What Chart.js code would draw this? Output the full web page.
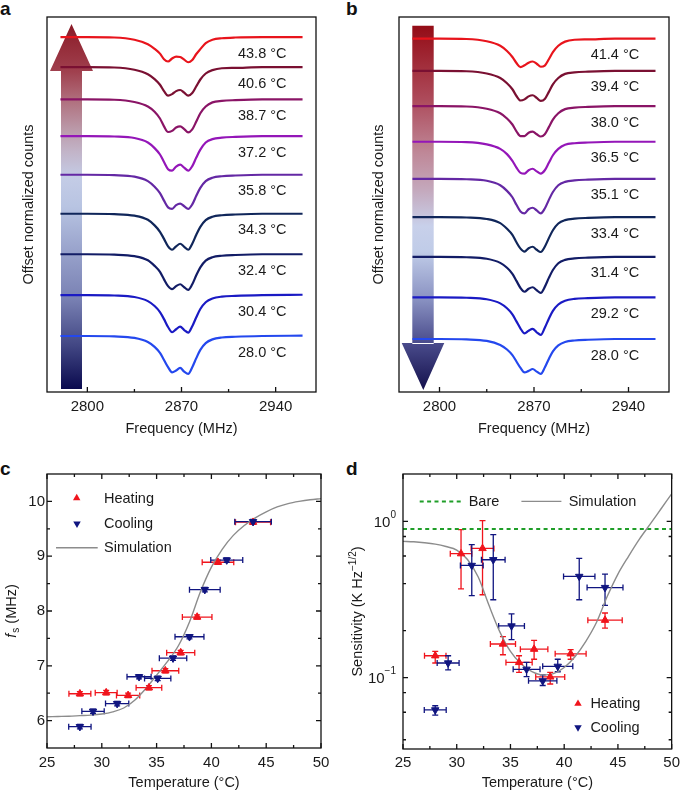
<!DOCTYPE html>
<html><head><meta charset="utf-8">
<script src="https://cdn.jsdelivr.net/npm/chart.js@4.4.1/dist/chart.umd.min.js"></script>
<style>
html,body{margin:0;padding:0;background:#fff;width:685px;height:792px;overflow:hidden;}
canvas{position:absolute;}
.lbl{position:absolute;font:bold 19px 'Liberation Sans',Arial,sans-serif;line-height:19px;color:#111;}
</style></head><body>
<div class="lbl" style="left:0;top:-1px">a</div>
<div class="lbl" style="left:346px;top:-1px">b</div>
<div class="lbl" style="left:0;top:459px">c</div>
<div class="lbl" style="left:346px;top:459px">d</div>
<canvas id="ca" width="340" height="445" style="left:0;top:0"></canvas>
<canvas id="cb" width="333" height="445" style="left:352px;top:0"></canvas>
<canvas id="cc" width="340" height="342" style="left:0;top:450px"></canvas>
<canvas id="cd" width="345" height="342" style="left:340px;top:450px"></canvas>
<script>
// ---------------- DATA ----------------
// Panels a, b: ODMR spectra (normalized counts, %), sampled at these frequencies (MHz)
const freqMHz = [2780, 2800, 2820, 2835, 2845, 2850, 2854, 2857, 2860, 2863, 2866, 2869, 2872, 2875, 2878, 2881, 2884, 2888, 2893, 2900, 2910, 2930, 2960];
const freqTicks = [2800, 2870, 2940];
const freqMinorTicks = [2835, 2905];

// Panel a: heating
const heatTempsA = [28.0, 30.4, 32.4, 34.3, 35.8, 37.2, 38.7, 40.6, 43.8];
const heatOffsetsA = [0, 10.9, 21.8, 32.6, 43.0, 53.3, 63.1, 71.7, 79.7];
const countsA_28_0 = [100,100,99.9,99.5,98.4,97.1,95.5,93.6,91.7,90.3,90.8,91.5,90.5,89.9,91.7,94.1,96.3,98.1,99.1,99.6,99.8,100,100.1];
const countsA_30_4 = [100,100,99.9,99.5,98.4,97.1,95.5,93.6,91.5,90.1,90.9,91.6,90.7,90.0,91.7,94.1,96.3,98.1,99.1,99.6,99.8,100,100.1];
const countsA_32_4 = [100,100,99.9,99.5,98.4,96.9,95.3,93.3,91.5,90.7,91.5,92.0,91.2,90.5,92.0,94.4,96.5,98.3,99.2,99.6,99.8,100,100];
const countsA_34_3 = [100,100,99.9,99.5,98.4,96.9,95.2,93.3,91.3,90.4,91.3,92.0,91.2,90.4,92.0,94.4,96.5,98.3,99.2,99.6,99.8,100,100];
const countsA_35_8 = [100,100,99.9,99.5,98.3,96.8,95.1,93.1,91.3,90.9,91.9,92.3,91.6,90.9,92.1,94.4,96.5,98.3,99.2,99.6,99.8,100,100];
const countsA_37_2 = [100,100,99.9,99.5,98.3,96.8,95.1,93.1,91.2,90.8,91.9,92.4,91.6,90.8,92.0,94.3,96.4,98.3,99.2,99.6,99.8,100,100];
const countsA_38_7 = [100,100,99.9,99.3,98.1,96.7,94.9,92.8,91.3,91.6,92.5,92.8,92.1,91.2,92.0,94.1,96.3,98.1,99.2,99.6,99.8,100,100];
const countsA_40_6 = [100,100,99.9,99.3,98.1,96.8,95.3,93.6,92.4,92.8,93.6,93.9,93.2,92.4,93.1,94.9,96.7,98.3,99.2,99.7,99.8,100,100];
const countsA_43_8 = [100,100,99.9,99.3,98.1,96.9,95.6,94.1,93.5,94.3,94.8,94.7,94.0,93.3,93.9,95.5,96.8,98.4,99.3,99.7,99.9,100,100];
const countsA = [countsA_28_0, countsA_30_4, countsA_32_4, countsA_34_3, countsA_35_8, countsA_37_2, countsA_38_7, countsA_40_6, countsA_43_8];

// Panel b: cooling
const coolTempsB = [28.0, 29.2, 31.4, 33.4, 35.1, 36.5, 38.0, 39.4, 41.4];
const coolOffsetsB = [0, 11.1, 21.9, 32.5, 42.7, 52.6, 62.1, 71.5, 80.1];
const countsB_28_0 = [100,100,99.9,99.5,98.4,97.2,95.7,94.0,92.3,91.1,91.5,92.0,91.3,90.7,92.4,94.7,96.7,98.3,99.2,99.6,99.8,100,100];
const countsB_29_2 = [100,100,99.9,99.5,98.4,97.1,95.5,93.6,91.7,90.4,91.1,91.6,90.7,90.0,91.9,94.3,96.4,98.1,99.1,99.6,99.8,100,100];
const countsB_31_4 = [100,100,99.9,99.5,98.4,97.1,95.5,93.6,91.7,90.7,91.5,91.9,91.1,90.4,92.0,94.4,96.5,98.3,99.2,99.6,99.8,100,100];
const countsB_33_4 = [100,100,99.9,99.5,98.4,96.9,95.3,93.3,91.6,90.8,91.7,92.1,91.3,90.7,92.1,94.4,96.5,98.3,99.2,99.6,99.8,100,100];
const countsB_35_1 = [100,100,99.9,99.5,98.3,96.8,95.1,93.1,91.3,90.8,91.9,92.3,91.6,90.8,92.1,94.4,96.5,98.3,99.2,99.6,99.8,100,100];
const countsB_36_5 = [100,100,99.9,99.3,98.1,96.7,94.9,93.1,91.7,91.5,92.4,92.8,92.1,91.5,92.4,94.4,96.4,98.1,99.2,99.6,99.8,100,100];
const countsB_38_0 = [100,100,99.9,99.3,98.1,96.7,95.1,93.3,92.0,92.0,92.9,93.2,92.5,91.9,92.5,94.4,96.4,98.1,99.2,99.6,99.8,100,100];
const countsB_39_4 = [100,100,99.9,99.3,98.1,96.7,95.1,93.3,92.1,92.4,93.2,93.5,92.8,92.0,92.5,94.4,96.4,98.1,99.2,99.6,99.8,100,100];
const countsB_41_4 = [100,100,99.9,99.3,98.1,96.7,95.1,93.5,92.4,92.9,93.6,93.9,93.3,92.5,92.8,94.5,96.4,98.1,99.2,99.7,99.8,100,100];
const countsB = [countsB_28_0, countsB_29_2, countsB_31_4, countsB_33_4, countsB_35_1, countsB_36_5, countsB_38_0, countsB_39_4, countsB_41_4];

// Panels c, d
const tempTicks = [25, 30, 35, 40, 45, 50];
const tempMinorTicks = [27.5, 32.5, 37.5, 42.5, 47.5];
const fsTicks = [6, 7, 8, 9, 10];
const fsMinorTicks = [6.5, 7.5, 8.5, 9.5];
const sensTicks = [0.1, 1];
const sensTickLabels = [['10', '\u22121'], ['10', '0']];
const sensMinorTicks = [0.04, 0.06, 0.08, 0.2, 0.4, 0.6, 0.8];

const heatTemps   = [28.0, 30.4, 32.4, 34.3, 35.8, 37.2, 38.7, 40.6, 43.8];
const heatTempErr = [1.0, 1.0, 1.06, 1.17, 1.22, 1.28, 1.35, 1.44, 1.6];
const heatFs      = [6.49, 6.51, 6.46, 6.60, 6.91, 7.24, 7.89, 8.89, 9.62];
const heatFsErr   = [0.04, 0.04, 0.04, 0.04, 0.04, 0.04, 0.04, 0.04, 0.04];
const heatSens    = [0.138, 0.621, 0.671, 0.164, 0.125, 0.152, 0.101, 0.142, 0.233];
const heatSensLow = [0.124, 0.37, 0.339, 0.14, 0.108, 0.131, 0.091, 0.131, 0.207];
const heatSensHigh= [0.147, 0.885, 1.01, 0.183, 0.138, 0.173, 0.108, 0.151, 0.259];

const coolTemps   = [43.8, 41.4, 39.4, 38.0, 36.5, 35.1, 33.4, 31.4, 29.2, 28.0];
const coolTempErr = [1.67, 1.46, 1.4, 1.32, 1.25, 1.2, 1.1, 1.06, 1.02, 1.02];
const coolFs      = [9.63, 8.93, 8.39, 7.53, 7.14, 6.77, 6.80, 6.31, 6.17, 5.89];
const coolFsErr   = [0.04, 0.04, 0.04, 0.04, 0.04, 0.04, 0.04, 0.04, 0.04, 0.04];
const coolSens    = [0.377, 0.444, 0.118, 0.0953, 0.113, 0.214, 0.568, 0.522, 0.124, 0.0621];
const coolSensLow = [0.29, 0.315, 0.109, 0.089, 0.1015, 0.175, 0.315, 0.335, 0.112, 0.0575];
const coolSensHigh= [0.46, 0.579, 0.131, 0.104, 0.125, 0.256, 0.822, 0.71, 0.138, 0.066];

const simTemps = [25,26,27,28,29,30,31,32,33,34,35,36,37,38,39,40,41,42,43,44,45,46,47,48,49,50];
const simFs    = [6.07,6.075,6.08,6.09,6.10,6.12,6.16,6.23,6.37,6.58,6.83,7.08,7.37,7.80,8.35,8.80,9.13,9.38,9.56,9.70,9.81,9.90,9.96,10.00,10.03,10.05];
const simSens  = [0.745,0.74,0.73,0.715,0.69,0.655,0.57,0.44,0.29,0.197,0.147,0.122,0.109,0.104,0.106,0.116,0.136,0.17,0.225,0.33,0.46,0.6,0.77,0.96,1.2,1.5];
const bareTemps = [25, 50];
const bareSens  = [0.894, 0.894];

// ---------------- STYLE ----------------
const FONT = "'Liberation Sans', Arial, Helvetica, sans-serif";
const TXT = '#1a1a1a';
const RED = '#f0141c';
const BLUE = '#101580';
const GRAY = '#8c8c8c';
const GREEN = '#1f9e28';
const colorsA = ['#2448ee','#1a1ac4','#121c66','#10265a','#6428a4','#9416b8','#8a1466','#7a1032','#e8141c'];
const colorsB = ['#2448ee','#1a1ac4','#121c66','#10265a','#6428a4','#9416b8','#8a1466','#7a1032','#e8141c'];

Chart.defaults.font.family = FONT;
Chart.defaults.color = TXT;
Chart.defaults.animation = false;

const zip = (xs, ys) => xs.map((v, i) => ({x: v, y: ys[i]}));

// frame + inward ticks
function framePlugin(cfg) {
  return {
    id: 'frame',
    afterDatasetsDraw(chart) {
      const {ctx, chartArea: a, scales: {x, y}} = chart;
      ctx.save();
      ctx.strokeStyle = '#111';
      ctx.lineWidth = 1.3;
      ctx.strokeRect(a.left, a.top, a.right - a.left, a.bottom - a.top);
      ctx.beginPath();
      const xt = (vals, len) => vals.forEach(v => {
        const p = x.getPixelForValue(v);
        ctx.moveTo(p, a.bottom); ctx.lineTo(p, a.bottom - len);
        if (cfg.mirror) { ctx.moveTo(p, a.top); ctx.lineTo(p, a.top + len); }
      });
      const yt = (vals, len) => vals.forEach(v => {
        const p = y.getPixelForValue(v);
        ctx.moveTo(a.left, p); ctx.lineTo(a.left + len, p);
        if (cfg.mirror) { ctx.moveTo(a.right, p); ctx.lineTo(a.right - len, p); }
      });
      xt(cfg.xMajor || [], 5); xt(cfg.xMinor || [], 3);
      yt(cfg.yMajor || [], 5); yt(cfg.yMinor || [], 3);
      ctx.stroke();
      ctx.restore();
    }
  };
}

function arrowPlugin(up, stops) {
  return {
    id: 'arrow',
    beforeDatasetsDraw(chart) {
      const {ctx, chartArea: a} = chart;
      ctx.save();
      let g;
      if (up) {
        g = ctx.createLinearGradient(0, a.top + 7, 0, a.bottom - 3);
      } else {
        g = ctx.createLinearGradient(0, a.top + 8.7, 0, a.bottom - 2);
      }
      stops.forEach(s => g.addColorStop(s[0], s[1]));
      ctx.fillStyle = g;
      ctx.beginPath();
      if (up) {
        ctx.rect(a.left + 14, a.top + 53, 21, a.bottom - 3 - (a.top + 53));
        ctx.moveTo(a.left + 3, a.top + 54);
        ctx.lineTo(a.left + 24.5, a.top + 7);
        ctx.lineTo(a.left + 46, a.top + 54);
        ctx.closePath();
      } else {
        ctx.rect(a.left + 13.3, a.top + 8.7, 21.4, a.bottom - 48 - (a.top + 8.7));
        ctx.moveTo(a.left + 2.7, a.bottom - 49);
        ctx.lineTo(a.left + 24.3, a.bottom - 2);
        ctx.lineTo(a.left + 45.3, a.bottom - 49);
        ctx.closePath();
      }
      ctx.fill();
      ctx.restore();
    }
  };
}

function tempLabelPlugin(temps, offsets, labelFreq) {
  return {
    id: 'templabels',
    afterDatasetsDraw(chart) {
      const {ctx, scales: {x, y}} = chart;
      ctx.save();
      ctx.font = '14.5px ' + FONT;
      ctx.fillStyle = TXT;
      ctx.textAlign = 'left';
      ctx.textBaseline = 'middle';
      temps.forEach((t, i) => {
        ctx.fillText(t.toFixed(1) + ' \u00B0C', x.getPixelForValue(labelFreq), y.getPixelForValue(100 + offsets[i]) + 16.5);
      });
      ctx.restore();
    }
  };
}

function spectraChart(id, temps, offsets, counts, colors, yMin, yMax, titlePad, padRight, arrow) {
  const datasets = temps.map((t, i) => ({
    data: freqMHz.map((f, k) => ({x: f, y: counts[i][k] + offsets[i]})),
    borderColor: colors[i],
    borderWidth: 2.2,
    pointRadius: 0,
    showLine: true,
    cubicInterpolationMode: 'monotone'
  }));
  return new Chart(document.getElementById(id), {
    type: 'scatter',
    data: {datasets},
    options: {
      responsive: false, devicePixelRatio: 1, animation: false,
      layout: {padding: {top: 17, right: padRight, left: 0, bottom: 0}},
      plugins: {legend: {display: false}, tooltip: {enabled: false}},
      scales: {
        x: {
          type: 'linear', min: 2770, max: 2970, position: 'bottom',
          grid: {display: false, drawTicks: false}, border: {display: false},
          afterBuildTicks: s => { s.ticks = freqTicks.map(v => ({value: v})); },
          afterFit: s => { s.height = 53; },
          ticks: {font: {size: 15}, padding: 6, color: TXT, maxRotation: 0, callback: v => String(v)},
          title: {display: true, text: 'Frequency (MHz)', font: {size: 14.5}, color: TXT, padding: {top: 0, bottom: 7}}
        },
        y: {
          min: yMin, max: yMax,
          grid: {display: false, drawTicks: false}, border: {display: false},
          ticks: {display: false},
          afterFit: s => { s.width = 47; },
          title: {display: true, text: 'Offset normalized counts', font: {size: 14.5}, color: TXT, padding: {top: titlePad, bottom: 0}}
        }
      }
    },
    plugins: [arrow, framePlugin({xMajor: freqTicks, xMinor: freqMinorTicks, mirror: false}),
              tempLabelPlugin(temps, offsets, 2912)]
  });
}

spectraChart('ca', heatTempsA, heatOffsetsA, countsA, colorsA, 85.07, 185.07, 20, 24,
  arrowPlugin(true, [[0,'#8a1a26'],[0.13,'#a0404e'],[0.21,'#b0707e'],[0.29,'#bb9aaa'],[0.35,'#c2b4c8'],
    [0.42,'#c4cce6'],[0.5,'#b8c4e2'],[0.62,'#99a3cc'],[0.75,'#7a82b4'],[0.88,'#424784'],[1,'#0a0a4e']]));
spectraChart('cb', coolTempsB, coolOffsetsB, countsB, colorsB, 85.87, 185.87, 18, 16,
  arrowPlugin(false, [[0,'#940c16'],[0.2,'#ad4a5a'],[0.35,'#bf8898'],[0.45,'#c4a8bc'],[0.55,'#c8d0ea'],
    [0.62,'#c0cce8'],[0.75,'#8a92c2'],[0.87,'#4a4c8c'],[1,'#14104c']]));

// error bars
function errPlugin(sets) {
  return {
    id: 'errbars',
    beforeDatasetsDraw(chart) {
      const {ctx, scales: {x, y}} = chart;
      ctx.save();
      ctx.lineWidth = 1.3;
      sets.forEach(s => {
        ctx.strokeStyle = s.color;
        ctx.beginPath();
        s.x.forEach((xv, i) => {
          const px = x.getPixelForValue(xv), py = y.getPixelForValue(s.y[i]);
          const x0 = x.getPixelForValue(xv - s.xerr[i]), x1 = x.getPixelForValue(xv + s.xerr[i]);
          const y0 = y.getPixelForValue(s.lo[i]), y1 = y.getPixelForValue(s.hi[i]);
          ctx.moveTo(x0, py); ctx.lineTo(x1, py);
          ctx.moveTo(x0, py - 3); ctx.lineTo(x0, py + 3);
          ctx.moveTo(x1, py - 3); ctx.lineTo(x1, py + 3);
          ctx.moveTo(px, y0); ctx.lineTo(px, y1);
          ctx.moveTo(px - 3, y0); ctx.lineTo(px + 3, y0);
          ctx.moveTo(px - 3, y1); ctx.lineTo(px + 3, y1);
        });
        ctx.stroke();
      });
      ctx.restore();
    }
  };
}

function tri(ctx, x, y, r, down, color) {
  let rad = down ? Math.PI : 0;
  ctx.beginPath();
  for (let k = 0; k < 3; k++) {
    const px = x + Math.sin(rad) * r, py = y - Math.cos(rad) * r;
    if (k === 0) ctx.moveTo(px, py); else ctx.lineTo(px, py);
    rad += 2 * Math.PI / 3;
  }
  ctx.closePath();
  ctx.fillStyle = color; ctx.fill();
}

const ptHeat = {pointStyle: 'triangle', pointRadius: 4.3, pointRotation: 0, backgroundColor: RED, borderColor: RED, borderWidth: 1};
const ptCool = {pointStyle: 'triangle', pointRadius: 4.3, pointRotation: 180, backgroundColor: BLUE, borderColor: BLUE, borderWidth: 1};

// Panel c
new Chart(document.getElementById('cc'), {
  type: 'scatter',
  data: {datasets: [
    {data: zip(coolTemps, coolFs), ...ptCool, order: 0},
    {data: zip(heatTemps, heatFs), ...ptHeat, order: 1},
    {data: zip(simTemps, simFs), showLine: true, borderColor: GRAY, borderWidth: 1.4, pointRadius: 0, cubicInterpolationMode: 'monotone', order: 2}
  ]},
  options: {
    responsive: false, devicePixelRatio: 1, animation: false,
    layout: {padding: {top: 24, right: 19, left: 0, bottom: 0}},
    plugins: {legend: {display: false}, tooltip: {enabled: false}},
    scales: {
      x: {
        type: 'linear', min: 25, max: 50,
        grid: {display: false, drawTicks: false}, border: {display: false},
        afterBuildTicks: s => { s.ticks = tempTicks.map(v => ({value: v})); },
        afterFit: s => { s.height = 44; },
        ticks: {font: {size: 15}, padding: 6, color: TXT, maxRotation: 0, callback: v => String(v)},
        title: {display: true, text: 'Temperature (\u00B0C)', font: {size: 14.5}, color: TXT, padding: {top: 0, bottom: 0}}
      },
      y: {
        min: 5.5, max: 10.5,
        grid: {display: false, drawTicks: false}, border: {display: false},
        afterBuildTicks: s => { s.ticks = fsTicks.map(v => ({value: v})); },
        afterFit: s => { s.width = 47; },
        ticks: {font: {size: 15}, padding: 2, color: TXT, callback: v => String(v)}
      }
    }
  },
  plugins: [
    errPlugin([
      {x: heatTemps, y: heatFs, xerr: heatTempErr, lo: heatFs.map((v, i) => v - heatFsErr[i]), hi: heatFs.map((v, i) => v + heatFsErr[i]), color: RED},
      {x: coolTemps, y: coolFs, xerr: coolTempErr, lo: coolFs.map((v, i) => v - coolFsErr[i]), hi: coolFs.map((v, i) => v + coolFsErr[i]), color: BLUE}
    ]),
    framePlugin({xMajor: tempTicks, xMinor: tempMinorTicks, yMajor: fsTicks, yMinor: fsMinorTicks, mirror: true}),
    {
      id: 'legendC',
      afterDraw(chart) {
        const {ctx, chartArea: a} = chart;
        ctx.save();
        ctx.font = '14.5px ' + FONT; ctx.fillStyle = TXT; ctx.textBaseline = 'middle'; ctx.textAlign = 'left';
        tri(ctx, a.left + 29.7, a.top + 24, 4.3, false, RED);
        ctx.fillStyle = TXT; ctx.fillText('Heating', a.left + 57, a.top + 25);
        tri(ctx, a.left + 30, a.top + 49.7, 4.3, true, BLUE);
        ctx.fillStyle = TXT; ctx.fillText('Cooling', a.left + 57, a.top + 50);
        ctx.strokeStyle = GRAY; ctx.lineWidth = 1.4;
        ctx.beginPath(); ctx.moveTo(a.left + 9, a.top + 73.7); ctx.lineTo(a.left + 50.7, a.top + 73.7); ctx.stroke();
        ctx.fillText('Simulation', a.left + 57, a.top + 74);
        // y title: f_s (MHz)
        ctx.translate(11, (a.top + a.bottom) / 2);
        ctx.rotate(-Math.PI / 2);
        const f1 = 'italic 14.5px ' + FONT, f2 = '10px ' + FONT, f3 = '14.5px ' + FONT;
        ctx.font = f1; const w1 = ctx.measureText('f').width + 1;
        ctx.font = f2; const w2 = ctx.measureText('s').width;
        ctx.font = f3; const w3 = ctx.measureText(' (MHz)').width;
        let sx = -(w1 + w2 + w3) / 2;
        ctx.textBaseline = 'alphabetic';
        ctx.font = f1; ctx.fillText('f', sx, 5); sx += w1;
        ctx.font = f2; ctx.fillText('s', sx, 8); sx += w2;
        ctx.font = f3; ctx.fillText(' (MHz)', sx, 5);
        ctx.restore();
      }
    }
  ]
});

// Panel d
new Chart(document.getElementById('cd'), {
  type: 'scatter',
  data: {datasets: [
    {data: zip(coolTemps, coolSens), ...ptCool, order: 0},
    {data: zip(heatTemps, heatSens), ...ptHeat, order: 1},
    {data: zip(simTemps, simSens), showLine: true, borderColor: GRAY, borderWidth: 1.4, pointRadius: 0, cubicInterpolationMode: 'monotone', order: 2},
    {data: zip(bareTemps, bareSens), showLine: true, borderColor: GREEN, borderWidth: 2, borderDash: [4, 3.4], pointRadius: 0, order: 3}
  ]},
  options: {
    responsive: false, devicePixelRatio: 1, animation: false,
    layout: {padding: {top: 24, right: 10, left: 0, bottom: 0}},
    plugins: {legend: {display: false}, tooltip: {enabled: false}},
    scales: {
      x: {
        type: 'linear', min: 25, max: 50,
        grid: {display: false, drawTicks: false}, border: {display: false},
        afterBuildTicks: s => { s.ticks = tempTicks.map(v => ({value: v})); },
        afterFit: s => { s.height = 43; },
        ticks: {font: {size: 15}, padding: 5, color: TXT, maxRotation: 0, callback: v => String(v)},
        title: {display: true, text: 'Temperature (\u00B0C)', font: {size: 14.5}, color: TXT, padding: {top: 0, bottom: 0}}
      },
      y: {
        type: 'logarithmic', min: 0.0349, max: 2.01,
        grid: {display: false, drawTicks: false}, border: {display: false},
        ticks: {display: false},
        afterFit: s => { s.width = 63; }
      }
    }
  },
  plugins: [
    errPlugin([
      {x: heatTemps, y: heatSens, xerr: heatTempErr, lo: heatSensLow, hi: heatSensHigh, color: RED},
      {x: coolTemps, y: coolSens, xerr: coolTempErr, lo: coolSensLow, hi: coolSensHigh, color: BLUE}
    ]),
    framePlugin({xMajor: tempTicks, xMinor: tempMinorTicks, yMajor: sensTicks, yMinor: sensMinorTicks, mirror: true}),
    {
      id: 'legendD',
      afterDraw(chart) {
        const {ctx, chartArea: a, scales: {y}} = chart;
        ctx.save();
        // y tick labels 10^n
        sensTicks.forEach((v, i) => {
          const py = y.getPixelForValue(v);
          const [base, exp] = sensTickLabels[i];
          ctx.textBaseline = 'middle'; ctx.fillStyle = TXT;
          ctx.font = '10px ' + FONT; const we = ctx.measureText(exp).width;
          ctx.textAlign = 'right';
          const rx = a.left - 7;
          ctx.fillText(exp, rx, py - 6);
          ctx.font = '15px ' + FONT;
          ctx.fillText(base, rx - we, py + 1);
        });
        // legend
        ctx.textAlign = 'left'; ctx.textBaseline = 'middle';
        ctx.font = '14.5px ' + FONT; ctx.fillStyle = TXT;
        ctx.strokeStyle = GREEN; ctx.lineWidth = 2; ctx.setLineDash([4, 3.4]);
        ctx.beginPath(); ctx.moveTo(a.left + 16.7, a.top + 27.4); ctx.lineTo(a.left + 60, a.top + 27.4); ctx.stroke();
        ctx.setLineDash([]);
        ctx.fillText('Bare', a.left + 65.7, a.top + 28);
        ctx.strokeStyle = GRAY; ctx.lineWidth = 1.4;
        ctx.beginPath(); ctx.moveTo(a.left + 118.4, a.top + 27.4); ctx.lineTo(a.left + 158.4, a.top + 27.4); ctx.stroke();
        ctx.fillText('Simulation', a.left + 165.7, a.top + 28);
        tri(ctx, a.left + 175, a.top + 229.7, 4.3, false, RED);
        ctx.fillStyle = TXT; ctx.fillText('Heating', a.left + 187.4, a.top + 230);
        tri(ctx, a.left + 175, a.top + 253.4, 4.3, true, BLUE);
        ctx.fillStyle = TXT; ctx.fillText('Cooling', a.left + 187.4, a.top + 254);
        // y title
        ctx.translate(17, (a.top + a.bottom) / 2);
        ctx.rotate(-Math.PI / 2);
        const f3 = '14.5px ' + FONT, f2 = '10px ' + FONT;
        ctx.font = f3; const w1 = ctx.measureText('Sensitivity (K Hz').width;
        ctx.font = f2; const w2 = ctx.measureText('\u22121/2').width;
        ctx.font = f3; const w3 = ctx.measureText(')').width;
        let sx = -(w1 + w2 + w3) / 2;
        ctx.textBaseline = 'alphabetic';
        ctx.font = f3; ctx.fillText('Sensitivity (K Hz', sx, 5); sx += w1;
        ctx.font = f2; ctx.fillText('\u22121/2', sx, -1); sx += w2;
        ctx.font = f3; ctx.fillText(')', sx, 5);
        ctx.restore();
      }
    }
  ]
});
</script>
</body></html>
